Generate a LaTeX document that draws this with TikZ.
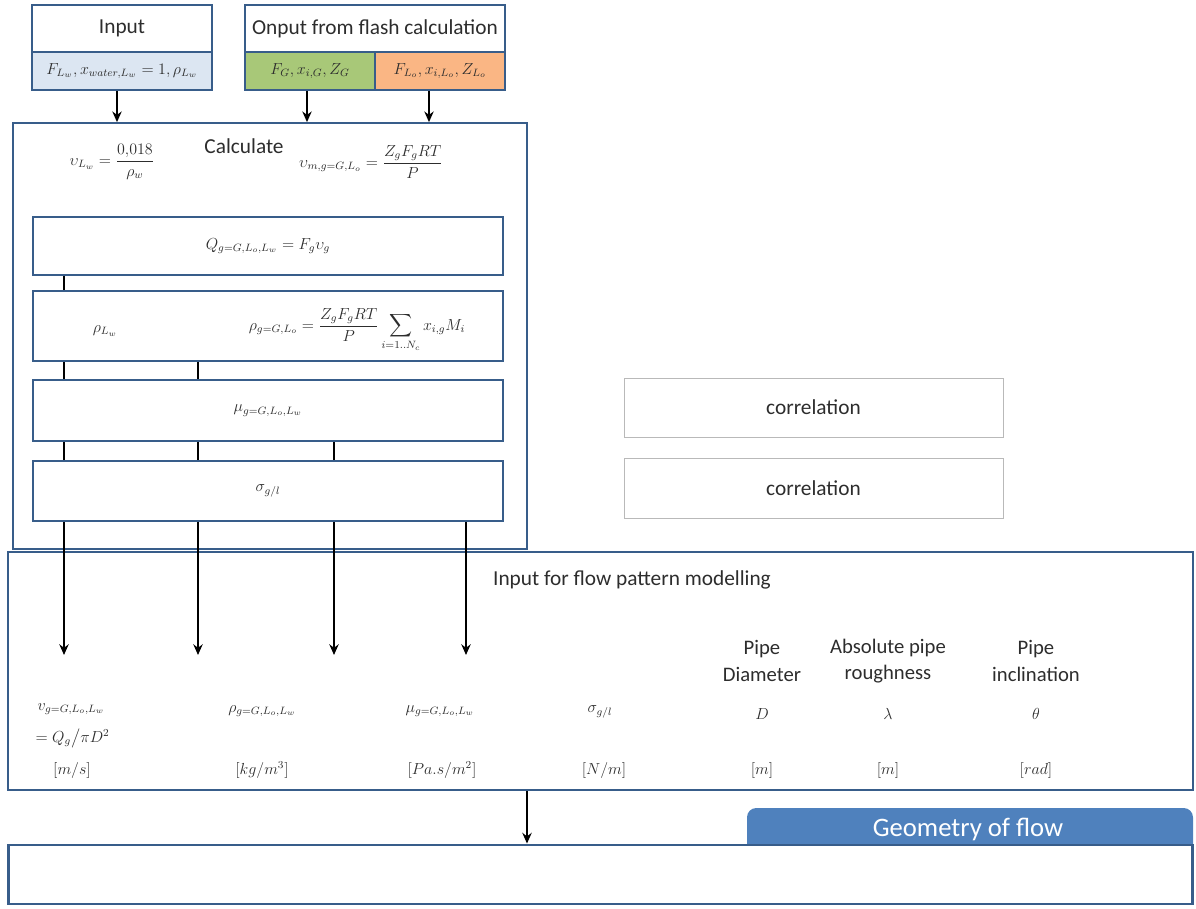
\documentclass[tikz,border=0pt]{standalone}
\usepackage{amsmath}
\usepackage{fontspec}
\setmainfont{Carlito}
\usetikzlibrary{arrows.meta}
\definecolor{bordc}{RGB}{56,93,138}
\definecolor{bluef}{RGB}{220,230,242}
\definecolor{greenf}{RGB}{168,200,120}
\definecolor{orangef}{RGB}{250,182,132}
\definecolor{tabc}{RGB}{79,129,189}
\definecolor{txtc}{RGB}{45,45,45}
\definecolor{corrc}{RGB}{185,185,185}
\tikzset{
  box/.style={draw=bordc, line width=1.3pt, inner sep=0pt, text=txtc},
  bigbox/.style={draw=bordc, line width=2.2pt, inner sep=0pt},
  corrbox/.style={draw=corrc, line width=0.6pt, inner sep=0pt, text=txtc, font=\fontsize{16}{18}\selectfont},
  ttl/.style={text=txtc, font=\fontsize{16}{18}\selectfont, inner sep=1pt},
  mth/.style={text=txtc, inner sep=1pt, font=\fontsize{12}{14}\selectfont},
  hdr/.style={text=txtc, font=\fontsize{15.5}{20}\selectfont, align=center, inner sep=1pt},
  arr/.style={line width=1.5pt, -{Stealth[length=8pt,width=7pt]}},
  lnk/.style={line width=1.5pt}
}
\begin{document}
\begin{tikzpicture}[x=0.75pt,y=-0.75pt]
\useasboundingbox (0,0) rectangle (1196,908);
% top input
\node[box, minimum width=135pt, minimum height=35.25pt, ttl] (intop) at (122,28.5) {Input};
\node[box, fill=bluef, minimum width=135pt, minimum height=28.5pt, mth] (inbot) at (122,71) {$F_{L_w},x_{water,L_w}=1,\rho_{L_w}$};
% flash
\node[box, minimum width=195pt, minimum height=35.25pt, ttl] (fltop) at (375,28.5) {Onput from flash calculation};
\node[box, fill=greenf, minimum width=97.5pt, minimum height=28.5pt, mth] (green) at (310,71) {$F_G,x_{i,G},Z_G$};
\node[box, fill=orangef, minimum width=97.5pt, minimum height=28.5pt, mth] (orange) at (440,71) {$F_{L_o},x_{i,L_o},Z_{L_o}$};
% calculate box
\node[box, minimum width=385.5pt, minimum height=319.5pt] (calc) at (270,336) {};
\node[ttl] (calcl) at (244,146) {Calculate};
\node[mth] (vlw) at (112,162) {$\upsilon_{L_w}=\dfrac{0{,}018}{\rho_w}$};
\node[mth] (vm) at (371,162) {$\upsilon_{m,g=G,L_o}=\dfrac{Z_gF_gRT}{P}$};
\node[box, minimum width=352.5pt, minimum height=43.5pt, mth] (Q) at (268,246) {$Q_{g=G,L_o,L_w}=F_g\upsilon_g$};
\node[box, minimum width=352.5pt, minimum height=52.5pt] (rho) at (268,326) {};
\node[mth] (rholw) at (105,331) {$\rho_{L_w}$};
\node[mth] (rhog) at (357,330) {$\rho_{g=G,L_o}=\dfrac{Z_gF_gRT}{P}\displaystyle\sum_{i=1..N_c}x_{i,g}M_i$};
\node[box, minimum width=352.5pt, minimum height=45.75pt, mth] (mu) at (268,410.5) {$\mu_{g=G,L_o,L_w}$};
\node[box, minimum width=352.5pt, minimum height=45pt, mth] (sig) at (268,491) {$\sigma_{g/l}$};
% columns
\coordinate (c1) at (64,0);
\coordinate (c2) at (198,0);
\coordinate (c3) at (334,0);
\coordinate (c4) at (466,0);
\draw[lnk] (Q.south -| c1) -- (rho.north -| c1);
\draw[lnk] (rho.south -| c1) -- (mu.north -| c1);
\draw[lnk] (rho.south -| c2) -- (mu.north -| c2);
\draw[lnk] (mu.south -| c1) -- (sig.north -| c1);
\draw[lnk] (mu.south -| c2) -- (sig.north -| c2);
\draw[lnk] (mu.south -| c3) -- (sig.north -| c3);
% top arrows
\coordinate (a1) at (117,0);
\coordinate (a2) at (307,0);
\coordinate (a3) at (429,0);
\draw[arr] (inbot.south -| a1) -- (calc.north -| a1);
\draw[arr] (green.south -| a2) -- (calc.north -| a2);
\draw[arr] (orange.south -| a3) -- (calc.north -| a3);
% correlation
\node[corrbox, minimum width=284.25pt, minimum height=44.25pt] (corr1) at (813.5,407.5) {correlation};
\node[corrbox, minimum width=284.25pt, minimum height=45pt] (corr2) at (813.5,488) {correlation};
% flow pattern box
\node[bigbox, minimum width=888.75pt, minimum height=178.5pt] (flow) at (600.5,671) {};
\node[ttl] (flowl) at (632,580) {Input for flow pattern modelling};
\coordinate (t1) at (64,655);
\coordinate (t2) at (198,655);
\coordinate (t3) at (334,655);
\coordinate (t4) at (466,655);
\draw[arr] (sig.south -| t1) -- (t1);
\draw[arr] (sig.south -| t2) -- (t2);
\draw[arr] (sig.south -| t3) -- (t3);
\draw[arr] (sig.south -| t4) -- (t4);
% headers
\node[hdr] (hD) at (762,661) {Pipe\\Diameter};
\node[hdr] (hL) at (888,661) {Absolute pipe\\roughness};
\node[hdr] (hT) at (1036,661) {Pipe\\inclination};
% values
\node[mth, anchor=west] (vv1) at (36,709) {$v_{g=G,L_o,L_w}$};
\node[mth, anchor=west] (vv2) at (34,738) {$=Q_g\big/\pi D^2$};
\node[mth] (vrho) at (262,711) {$\rho_{g=G,L_o,L_w}$};
\node[mth] (vmu) at (440,711) {$\mu_{g=G,L_o,L_w}$};
\node[mth] (vsig) at (600,712) {$\sigma_{g/l}$};
\node[mth] (vD) at (762,714) {$D$};
\node[mth] (vL) at (888,714) {$\lambda$};
\node[mth] (vT) at (1036,714) {$\theta$};
% units
\node[mth] (u1) at (72,770) {$\left[m/s\right]$};
\node[mth] (u2) at (262,770) {$\left[kg/m^3\right]$};
\node[mth] (u3) at (442,770) {$\left[Pa.s/m^2\right]$};
\node[mth] (u4) at (604,770) {$\left[N/m\right]$};
\node[mth] (u5) at (762,770) {$\left[m\right]$};
\node[mth] (u6) at (888,770) {$\left[m\right]$};
\node[mth] (u7) at (1036,770) {$\left[rad\right]$};
% geometry tab
\fill[tabc] (747,846) [rounded corners=7pt]-- (747,808) -- (1193,808) [sharp corners]-- (1193,846) -- cycle;
\node[text=white, font=\fontsize{20}{22}\selectfont] (geo) at (968,829) {Geometry of flow};
% bottom box
\node[bigbox, fill=white, minimum width=888pt, minimum height=44.25pt] (bot) at (600.5,874.5) {};
\coordinate (a5) at (527,0);
\draw[arr] (flow.south -| a5) -- (bot.north -| a5);
\end{tikzpicture}
\end{document}
